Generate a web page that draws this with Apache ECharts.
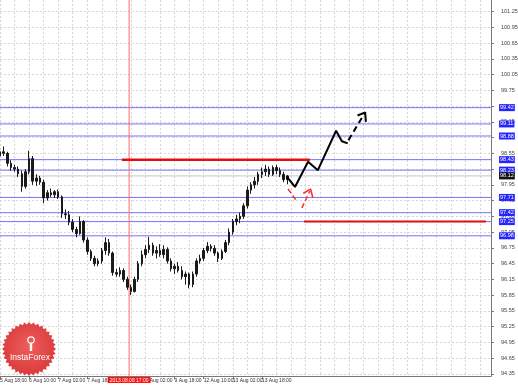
<!DOCTYPE html>
<html>
<head>
<meta charset="utf-8">
<script src="https://cdn.jsdelivr.net/npm/echarts@6/dist/echarts.min.js"></script>
<style>
html,body{margin:0;padding:0;background:#fff;}
#chart{width:518px;height:385px;}
</style>
</head>
<body>
<div id="chart"></div>
<script>
// ---- data ----
const xTickLabels = ["5 Aug 18:00","6 Aug 10:00","7 Aug 02:00","7 Aug 18:00","8 Aug 10:00","9 Aug 02:00","9 Aug 18:00","12 Aug 10:00","13 Aug 02:00","13 Aug 18:00"];
const yTicks = [94.35,94.65,94.95,95.25,95.55,95.85,96.15,96.45,96.75,97.05,97.35,97.65,97.95,98.25,98.55,98.85,99.15,99.45,99.75,100.05,100.35,100.65,100.95,101.25];
const opens = [98.50,98.58,98.55,98.36,98.28,98.25,98.16,97.92,98.20,98.45,
98.02,98.08,98.00,97.70,97.80,97.76,97.82,97.72,97.40,97.38,
97.24,97.10,97.02,97.25,96.90,96.68,96.55,96.45,96.50,96.70,
96.85,96.65,96.28,96.25,96.32,96.15,96.00,95.92,96.15,96.45,
96.62,96.72,96.80,96.65,96.70,96.62,96.72,96.50,96.35,96.40,
96.32,96.20,96.25,96.05,96.25,96.50,96.55,96.70,96.78,96.74,
96.65,96.55,96.68,96.85,97.05,97.25,97.30,97.35,97.55,97.85,
97.95,98.02,98.15,98.20,98.25,98.15,98.28,98.22,98.15,98.05];
const closes = [98.58,98.55,98.36,98.28,98.25,98.16,97.92,98.20,98.45,98.02,
98.08,98.00,97.70,97.80,97.76,97.82,97.72,97.40,97.38,97.24,
97.10,97.02,97.25,96.90,96.68,96.55,96.45,96.50,96.70,96.85,
96.65,96.28,96.25,96.32,96.15,96.00,95.92,96.15,96.45,96.62,
96.72,96.80,96.65,96.70,96.62,96.72,96.50,96.35,96.40,96.32,
96.20,96.25,96.05,96.25,96.50,96.55,96.70,96.78,96.74,96.65,
96.55,96.68,96.85,97.05,97.25,97.30,97.35,97.55,97.85,97.95,
98.02,98.15,98.20,98.25,98.15,98.28,98.22,98.15,98.05,98.12];
const highs = [98.62,98.68,98.58,98.42,98.33,98.30,98.22,98.25,98.60,98.50,
98.15,98.12,98.05,97.85,97.88,97.85,97.86,97.75,97.48,97.45,
97.30,97.15,97.35,97.28,96.95,96.72,96.60,96.55,96.75,96.95,
96.92,96.68,96.35,96.38,96.36,96.20,96.05,96.20,96.50,96.70,
96.80,96.96,96.85,96.78,96.82,96.80,96.76,96.55,96.45,96.48,
96.40,96.30,96.28,96.30,96.55,96.62,96.75,96.86,96.82,96.80,
96.68,96.72,96.90,97.12,97.30,97.38,97.42,97.60,97.92,98.00,
98.10,98.20,98.28,98.33,98.30,98.32,98.33,98.28,98.20,98.14];
const lows = [98.42,98.50,98.30,98.22,98.20,98.10,97.82,97.88,98.15,97.95,
97.93,97.95,97.60,97.65,97.72,97.70,97.68,97.32,97.30,97.18,
97.05,96.95,97.00,96.85,96.62,96.50,96.40,96.40,96.45,96.62,
96.60,96.22,96.20,96.20,96.10,95.95,95.85,95.90,96.10,96.40,
96.55,96.65,96.60,96.55,96.58,96.55,96.45,96.30,96.25,96.28,
96.15,96.05,95.98,96.00,96.20,96.45,96.50,96.65,96.68,96.60,
96.48,96.52,96.65,96.80,97.00,97.18,97.22,97.30,97.50,97.78,
97.88,97.95,98.08,98.12,98.10,98.12,98.15,98.10,98.00,97.96];
const levels = [99.42, 99.11, 98.88, 98.43, 98.23, 97.71, 97.42, 97.25, 96.98];
const currentPrice = 98.12;
const markerTime = 35.5;
const markerLabel = "2013.08.08 17:00";
const forecastSolid = [[78.9,98.10],[81.1,97.91],[84.7,98.39],[87.4,98.23],[92.4,98.98],[94.0,98.78],[95.6,98.74]];
const forecastDashed = [[95.8,98.80],[100.3,99.32]];
const forecastArrow = [[98.3,99.27],[100.4,99.33],[100.6,99.15]];
const redDashed = [[79.2,97.87],[81.7,97.63],'-',[83.0,97.51],[85.2,97.83]];
const redArrow = [[83.4,97.79],[85.4,97.87],[86.0,97.71]];
const redLevel1 = [[33.5,98.43],[85.2,98.43]];
const redLevel2 = [[83.6,97.25],[133.6,97.25]];
const nCats = 136;
const yMin = 94.31, yMax = 101.47;

// ---- build ----
const categories = [];
for (let i = 0; i < nCats; i++) categories.push(String(i));
const candles = opens.map((o, i) => [o, closes[i], lows[i], highs[i]]);

const chart = echarts.init(document.getElementById('chart'), null, {renderer:'canvas'});

// logo starburst
const logoPts = [];
const cx = 29, cy = 349, teeth = 36;
for (let k = 0; k < teeth * 2; k++) {
  const r = (k % 2 === 0) ? 27 : 24.5;
  const a = Math.PI * k / teeth;
  logoPts.push([cx + r * Math.cos(a), cy + r * Math.sin(a)]);
}

const fontFam = 'Liberation Sans, DejaVu Sans, sans-serif';
const showTick = (i) => i % 8 === 0 && i / 8 < xTickLabels.length;

function levelSeries(v, lineColor, boxColor) {
  return {
    type: 'line', xAxisIndex: 1, yAxisIndex: 0, z: 2, silent: true, clip: false,
    symbol: 'circle', symbolSize: 0.1, showSymbol: true,
    lineStyle: {color: lineColor, width: 1, type: 'solid'},
    itemStyle: {color: lineColor},
    data: [[0, v], {value: [nCats - 1, v], label: {show: true, position: 'right', distance: 8,
      formatter: () => v.toFixed(2), backgroundColor: boxColor, color: '#fff',
      fontSize: 5.5, padding: [1, 1, 0, 1], fontFamily: fontFam}}]
  };
}

const series = [
  {
    type: 'candlestick', xAxisIndex: 0, yAxisIndex: 0, data: candles,
    barWidth: 2, silent: true,
    itemStyle: {color: '#1a1a1a', color0: '#1a1a1a', borderColor: '#1a1a1a', borderColor0: '#1a1a1a', borderWidth: 1},
    z: 3
  }
];
levels.forEach(v => series.push(levelSeries(v, '#7373ff', '#2424ff')));
series.push(levelSeries(currentPrice, '#c4c4c4', '#111111'));
series.push({
  type: 'line', xAxisIndex: 1, yAxisIndex: 0, z: 2, silent: true, clip: false,
  symbol: 'circle', symbolSize: 0.1, showSymbol: true,
  lineStyle: {color: '#ff6a6a', width: 1},
  itemStyle: {color: '#ff6a6a'},
  data: [{value: [markerTime, yMin], label: {show: true, position: 'bottom', distance: 1,
    formatter: () => markerLabel, backgroundColor: '#ff1010', color: '#fff', fontSize: 5,
    padding: [1, 2, 0, 2], fontFamily: fontFam}}, [markerTime, yMax]]
});
series.push(
  {type: 'line', xAxisIndex: 1, yAxisIndex: 0, data: redLevel1, symbol: 'none', silent: true, lineStyle: {color: '#e01010', width: 2.5}, z: 4},
  {type: 'line', xAxisIndex: 1, yAxisIndex: 0, data: redLevel2, symbol: 'none', silent: true, lineStyle: {color: '#e01010', width: 2}, z: 4},
  {type: 'line', xAxisIndex: 1, yAxisIndex: 0, data: forecastSolid, symbol: 'none', silent: true, lineStyle: {color: '#000', width: 2}, z: 5},
  {type: 'line', xAxisIndex: 1, yAxisIndex: 0, data: forecastDashed, symbol: 'none', silent: true, lineStyle: {color: '#000', width: 2, type: [6, 4]}, z: 5},
  {type: 'line', xAxisIndex: 1, yAxisIndex: 0, data: forecastArrow, symbol: 'none', silent: true, lineStyle: {color: '#000', width: 2}, z: 5},
  {type: 'line', xAxisIndex: 1, yAxisIndex: 0, data: redDashed, symbol: 'none', silent: true, connectNulls: false, lineStyle: {color: '#ff2a2a', width: 1.5, type: [5, 3]}, z: 5},
  {type: 'line', xAxisIndex: 1, yAxisIndex: 0, data: redArrow, symbol: 'none', silent: true, lineStyle: {color: '#ff2a2a', width: 1.5}, z: 5}
);

const option = {
  backgroundColor: '#ffffff',
  animation: false,
  tooltip: {show: false},
  axisPointer: {show: false},
  grid: {left: 0, right: 27, top: 0, bottom: 9, containLabel: false, outerBoundsMode: 'none'},
  xAxis: [{
    type: 'category',
    data: categories,
    boundaryGap: false,
    axisPointer: {show: false},
    axisLine: {show: true, onZero: false, lineStyle: {color: '#777', width: 1}},
    axisTick: {show: true, length: 3, interval: showTick, lineStyle: {color: '#777'}},
    axisLabel: {
      show: true, interval: 7, hideOverlap: false,
      formatter: (v, i) => xTickLabels[i / 8] || '',
      align: 'left', margin: 2, fontSize: 5, color: '#333', fontFamily: fontFam
    },
    splitLine: {show: true, interval: 3, lineStyle: {color: '#d6d6d6', type: [2, 2], width: 1}}
  }, {
    type: 'value', min: 0, max: nCats - 1, show: false, axisPointer: {show: false},
    axisLine: {show: false, onZero: false}, splitLine: {show: false}
  }],
  yAxis: [{
    type: 'value', position: 'right', min: yMin, max: yMax, scale: true,
    axisPointer: {show: false},
    axisLine: {show: true, onZero: false, lineStyle: {color: '#777', width: 1}},
    axisTick: {show: true, length: 3, customValues: yTicks, lineStyle: {color: '#777'}},
    axisLabel: {show: true, customValues: yTicks, formatter: (v) => v.toFixed(2), margin: 10, fontSize: 5.5, color: '#444', fontFamily: fontFam},
    splitLine: {show: true, lineStyle: {color: '#d6d6d6', type: [2, 2], width: 1}}
  }],
  series: series,
  graphic: [
    {type: 'polygon', z: 100, silent: true, shape: {points: logoPts},
      style: {fill: {type: 'radial', x: 0.5, y: 0.45, r: 0.6, colorStops: [{offset: 0, color: '#ee5f5f'}, {offset: 1, color: '#d83636'}]}}},
    {type: 'circle', z: 101, silent: true, shape: {cx: 31, cy: 340, r: 3.2}, style: {fill: 'none', stroke: '#fff', lineWidth: 1.2}},
    {type: 'rect', z: 101, silent: true, shape: {x: 29.8, y: 343, width: 2.4, height: 8}, style: {fill: '#fff'}},
    {type: 'text', z: 101, silent: true, x: 30, y: 358, style: {text: 'InstaForex', fill: '#fff', fontSize: 8.5, fontFamily: fontFam, align: 'center', verticalAlign: 'middle'}}
  ]
};
chart.setOption(option);
</script>
</body>
</html>
